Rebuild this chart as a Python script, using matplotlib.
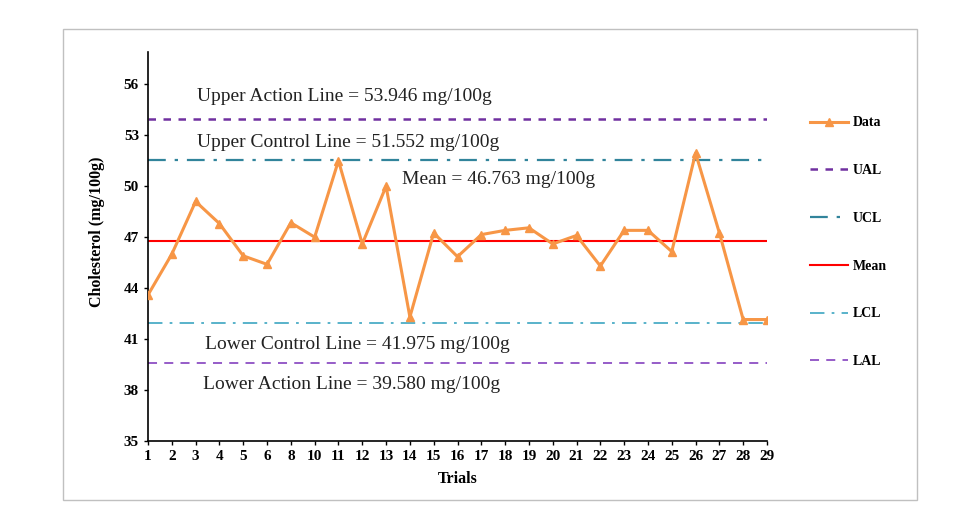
import numpy as np
import matplotlib.pyplot as plt
from matplotlib.patches import Rectangle

# trial labels (7 and 9 are missing in the source)
trials = ["1", "2", "3", "4", "5", "6", "8", "10", "11", "12", "13", "14", "15", "16",
          "17", "18", "19", "20", "21", "22", "23", "24", "25", "26", "27", "28", "29"]
cholesterol = [43.6, 46.0, 49.1, 47.8, 45.9, 45.4, 47.85, 47.0, 51.5, 46.6, 50.0, 42.3,
               47.25, 45.85, 47.15, 47.4, 47.55, 46.6, 47.1, 45.3, 47.4, 47.4, 46.15,
               51.95, 47.25, 42.15, 42.15]

ual = 53.946
ucl = 51.552
mean = 46.763
lcl = 41.975
lal = 39.580
y_ticks = [35, 38, 41, 44, 47, 50, 53, 56]

plt.rcParams['font.family'] = ['Liberation Serif', 'DejaVu Serif']

fig = plt.figure(figsize=(9.58, 5.12), dpi=100)
# outer gray frame
fig.patches.append(Rectangle((63 / 958, 1 - 500 / 512), (917 - 63) / 958, (500 - 29) / 512,
                             transform=fig.transFigure, fill=False, edgecolor='#c0c0c0', lw=1.0))

ax = fig.add_axes([148 / 958, 71 / 512, (767 - 148) / 958, (441 - 52) / 512])
x = np.arange(len(trials))

l_data, = ax.plot(x, cholesterol, color='#F79646', lw=2.2, marker='^', ms=6, label='Data', zorder=5)
l_ual = ax.axhline(ual, color='#7030A0', lw=1.8, ls=(0, (3, 3)), label='UAL')
l_ucl = ax.axhline(ucl, color='#31849B', lw=1.6, ls=(0, (8, 4, 1.5, 4)), label='UCL')
l_mean = ax.axhline(mean, color='#FF0000', lw=1.5, label='Mean')
l_lcl = ax.axhline(lcl, color='#4BACC6', lw=1.3, ls=(0, (8, 4, 1.5, 4)), label='LCL')
l_lal = ax.axhline(lal, color='#8E4FC4', lw=1.3, ls=(0, (5, 4)), label='LAL')

ax.set_xlim(0, len(trials) - 1)
ax.set_ylim(35, 57.9)
ax.set_yticks(y_ticks)
ax.set_xticks(x)
ax.set_xticklabels(trials)
for lab in ax.get_xticklabels() + ax.get_yticklabels():
    lab.set_fontweight('bold')
    lab.set_fontsize(11)
ax.tick_params(axis='both', direction='out', length=3, width=1, color='black')
for s in ['top', 'right']:
    ax.spines[s].set_visible(False)
ax.spines['left'].set_linewidth(1.2)
ax.spines['bottom'].set_linewidth(1.2)
ax.set_ylabel("Cholesterol (mg/100g)", fontsize=11.5, fontweight='bold')
ax.yaxis.set_label_coords(-0.07, 0.537)
ax.set_xlabel("Trials", fontsize=11.5, fontweight='bold', labelpad=6)

txt_col = '#222222'
fs = 14
ax.text(2.05, 55.3, "Upper Action Line = 53.946 mg/100g", fontsize=fs, color=txt_col, va='center')
ax.text(2.05, 52.6, "Upper Control Line = 51.552 mg/100g", fontsize=fs, color=txt_col, va='center')
ax.text(10.65, 50.4, "Mean = 46.763 mg/100g", fontsize=fs, color=txt_col, va='center')
ax.text(2.4, 40.7, "Lower Control Line = 41.975 mg/100g", fontsize=fs, color=txt_col, va='center')
ax.text(2.3, 38.35, "Lower Action Line = 39.580 mg/100g", fontsize=fs, color=txt_col, va='center')

leg = fig.legend(handles=[l_data, l_ual, l_ucl, l_mean, l_lcl, l_lal],
                 loc='upper left', bbox_to_anchor=(797 / 958, 1 - 104 / 512),
                 frameon=False, labelspacing=2.5, handlelength=2.8, handletextpad=0.3,
                 prop={'weight': 'bold', 'size': 10})

fig.savefig("out.png", dpi=100)
